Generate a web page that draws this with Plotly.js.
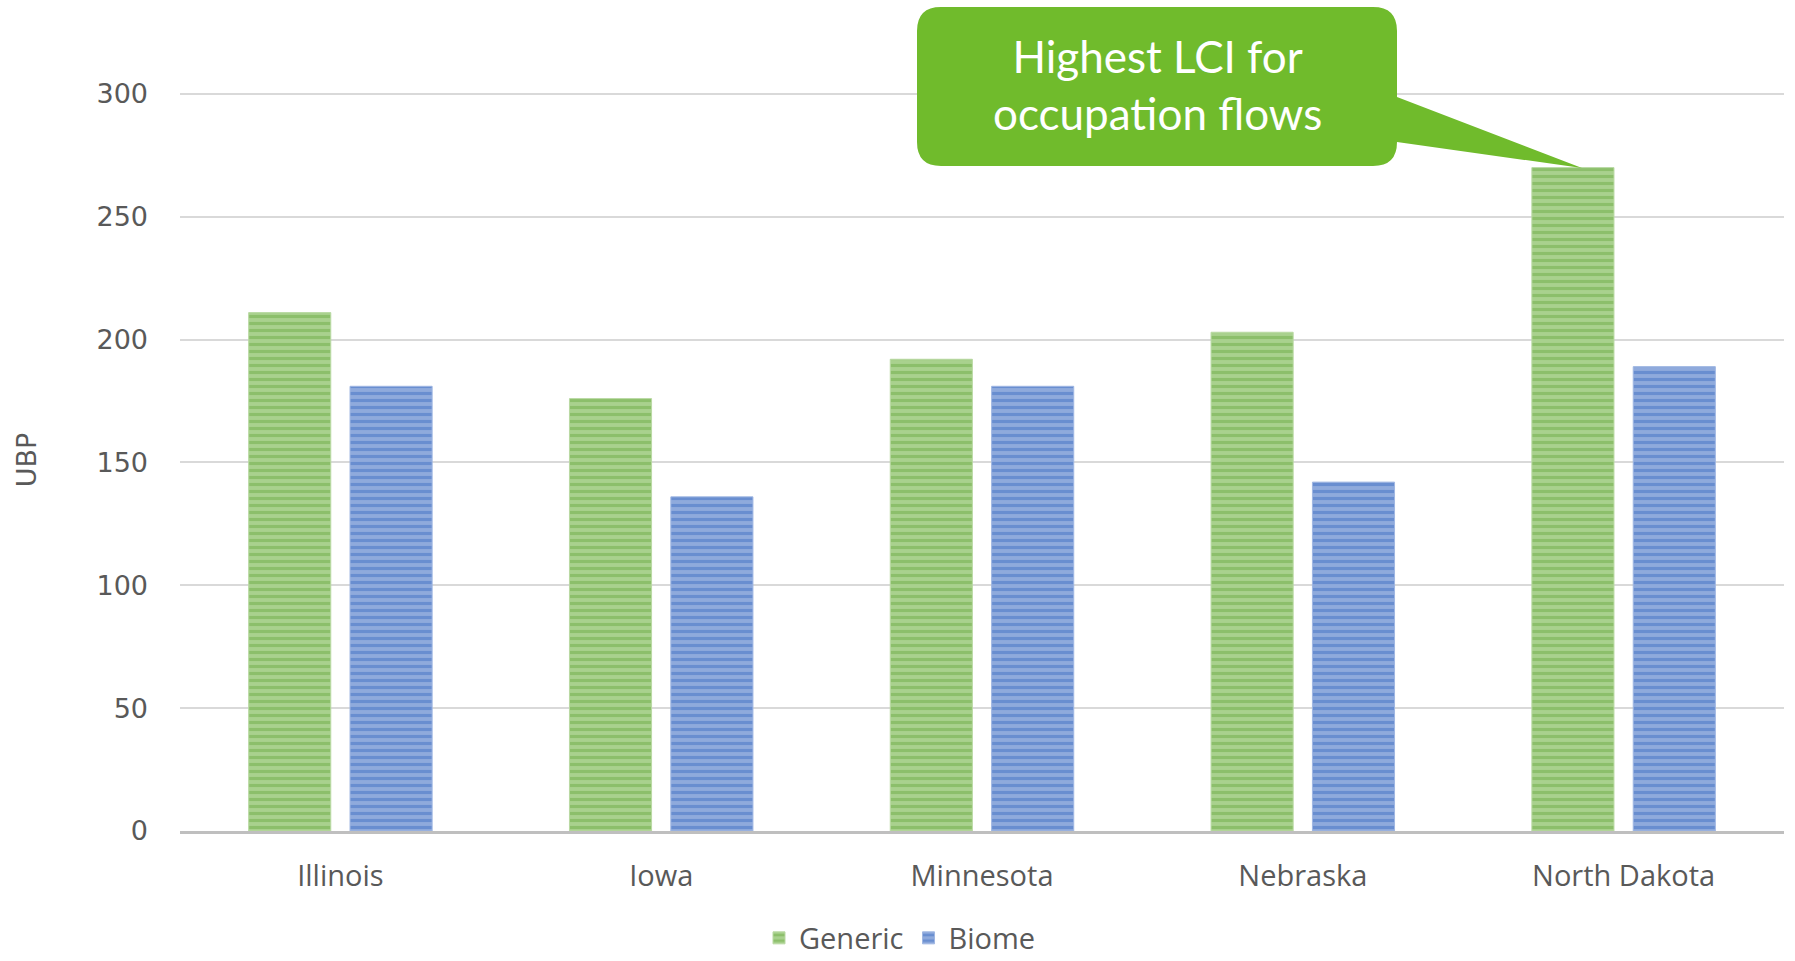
<!DOCTYPE html>
<html>
<head>
<meta charset="utf-8">
<script src="https://cdn.plot.ly/plotly-3.0.1.min.js"></script>
<style>html,body{margin:0;padding:0;background:#fff;}#chart{width:1795px;height:961px;}</style>
</head>
<body>
<div id="chart"></div>
<script>
const states = ["Illinois", "Iowa", "Minnesota", "Nebraska", "North Dakota"];
const genericValues = [211, 176, 192, 203, 270];
const biomeValues = [181, 136, 181, 142, 189];
const yTicks = [0, 50, 100, 150, 200, 250, 300];
const calloutText = "Highest LCI for<br>occupation flows";

const YMAX = 302;
const L = 180, R = 1784, B = 831;
const T = Math.round(94 - (YMAX - 300) * (737 / 300));
const W = R - L, H = B - T;
function px(x) { return (x - L) / W; }
function py(y) { return (B - y) / H; }
function P(x, y) { return px(x).toFixed(5) + "," + py(y).toFixed(5); }

const x0 = 917, x1 = 1397, y0 = 7, y1 = 166, r = 24;
const calloutPath =
  "M" + P(x0 + r, y0) +
  " L" + P(x1 - r, y0) +
  " Q" + P(x1, y0) + " " + P(x1, y0 + r) +
  " L" + P(x1, 97) +
  " L" + P(1582, 168) +
  " L" + P(x1, 142) +
  " L" + P(x1, y1 - r) +
  " Q" + P(x1, y1) + " " + P(x1 - r, y1) +
  " L" + P(x0 + r, y1) +
  " Q" + P(x0, y1) + " " + P(x0, y1 - r) +
  " L" + P(x0, y0 + r) +
  " Q" + P(x0, y0) + " " + P(x0 + r, y0) + " Z";

const traces = [
  {
    type: "bar", name: "Generic", x: states, y: genericValues,
    marker: {
      color: "#A9D18E",
      line: {color: "#B9D9A3", width: 1},
      pattern: {shape: "-", fgcolor: "#70AD47", bgcolor: "#A9D18E", size: 7, solidity: 0.45, fillmode: "overlay"}
    },
    hoverinfo: "x+y"
  },
  {
    type: "bar", name: "Biome", x: states, y: biomeValues,
    marker: {
      color: "#8FAADC",
      line: {color: "#9FB6E2", width: 1},
      pattern: {shape: "-", fgcolor: "#4472C4", bgcolor: "#8FAADC", size: 7, solidity: 0.45, fillmode: "overlay"}
    },
    hoverinfo: "x+y"
  }
];

const layout = {
  width: 1795, height: 961,
  margin: {l: L, r: 1795 - R, t: T, b: 961 - B},
  paper_bgcolor: "#ffffff", plot_bgcolor: "#ffffff",
  barmode: "group", bargap: 0.368, bargroupgap: 0.19,
  font: {family: "Open Sans, sans-serif", color: "#595959"},
  showlegend: true,
  legend: {
    orientation: "h", xref: "container", yref: "container",
    x: 900 / 1795, xanchor: "center", y: 1 - 938 / 961, yanchor: "middle",
    font: {size: 29, color: "#595959", family: "Open Sans, sans-serif"},
    traceorder: "normal", tracegroupgap: 0
  },
  xaxis: {
    type: "category", automargin: false,
    showgrid: false, showline: true, linecolor: "#BFBFBF", linewidth: 3,
    ticks: "", ticklabelstandoff: 17,
    tickfont: {size: 29, color: "#595959", family: "Open Sans, sans-serif"},
    fixedrange: true
  },
  yaxis: {
    range: [0, YMAX], tickvals: yTicks, ticktext: yTicks.map(String), automargin: false,
    showgrid: true, gridcolor: "#D9D9D9", gridwidth: 2,
    zeroline: false, showline: false, ticks: "", ticklabelstandoff: 31,
    tickfont: {size: 27, color: "#595959", family: "DejaVu Sans, sans-serif"},
    title: {text: "UBP", font: {size: 27, color: "#595959", family: "DejaVu Sans, sans-serif"}, standoff: 52},
    fixedrange: true
  },
  shapes: [
    {type: "path", xref: "paper", yref: "paper", path: calloutPath,
     fillcolor: "#70BB2C", line: {width: 0}, layer: "above"}
  ],
  annotations: [
    {xref: "paper", yref: "paper", x: px(1157), y: py(85), xanchor: "center", yanchor: "middle",
     text: calloutText, showarrow: false, align: "center",
     font: {size: 44, color: "#ffffff", family: "Lato, sans-serif"}}
  ]
};

Plotly.newPlot("chart", traces, layout, {displayModeBar: false, staticPlot: true});
</script>
</body>
</html>
